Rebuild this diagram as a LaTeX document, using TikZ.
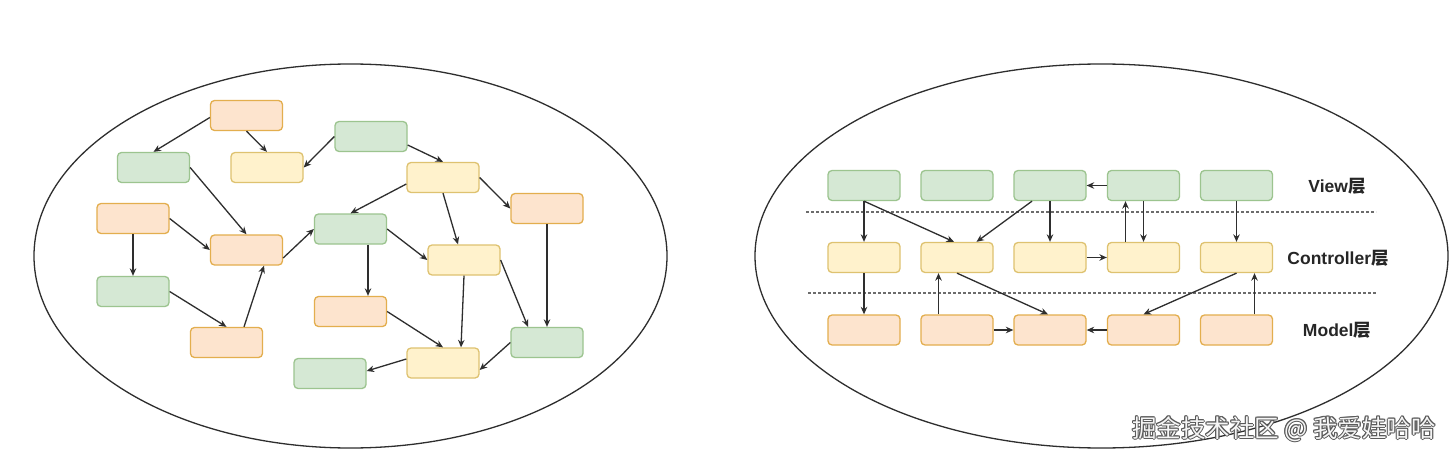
\documentclass[tikz,border=0pt]{standalone}
\usepackage{fontspec}
\setmainfont{Liberation Sans}
\newfontfamily\cjk{Noto Sans CJK SC}
\newfontfamily\cjkbold{Noto Sans CJK SC Bold}
\usetikzlibrary{arrows.meta,calc}
\definecolor{gfill}{HTML}{D5E8D4}
\definecolor{gline}{HTML}{9CC48F}
\definecolor{yfill}{HTML}{FFF2CC}
\definecolor{yline}{HTML}{DEC270}
\definecolor{ofill}{HTML}{FDE4CE}
\definecolor{oline}{HTML}{E3AE4E}
\definecolor{edge}{HTML}{2E2E2E}
\tikzset{
  box/.style={rounded corners=4pt, line width=1.3pt, minimum width=72pt, minimum height=30pt, inner sep=0pt},
  gbox/.style={box, draw=gline, fill=gfill},
  ybox/.style={box, draw=yline, fill=yfill},
  obox/.style={box, draw=oline, fill=ofill},
  conn/.style={draw=edge, line width=1.3pt, -{Stealth[length=7.5pt,width=6.5pt]}},
  oval/.style={draw=edge, line width=1.3pt},
  sep/.style={draw=gray!85!black, line width=1.7pt, dash pattern=on 3pt off 2pt},
  layer/.style={font=\fontsize{17.5pt}{20pt}\selectfont\bfseries, text=black!85, inner sep=0pt},
  wm/.style={font=\cjk\fontsize{24.5pt}{28pt}\selectfont, inner sep=0pt}
}
\begin{document}
\begin{tikzpicture}[x=1pt,y=-1pt]
\useasboundingbox (0,0) rectangle (1452,460);
\fill[white] (0,0) rectangle (1452,460);
% ellipses
\draw[oval] (350.5,256) ellipse [x radius=316.5pt, y radius=192pt];
\draw[oval] (1101.5,256) ellipse [x radius=346.5pt, y radius=192pt];
% ---------- left ----------
\node[obox] (b1) at (246.5,115.5) {};
\node[gbox] (b2) at (153.5,167.5) {};
\node[ybox] (b3) at (267,167.5) {};
\node[gbox] (b4) at (371,136.5) {};
\node[ybox] (b5) at (443,177.5) {};
\node[obox] (b6) at (133,218.5) {};
\node[obox] (b7) at (246.5,250) {};
\node[gbox] (b8) at (350.5,229) {};
\node[obox] (b9) at (547,208.5) {};
\node[ybox] (b10) at (464,260) {};
\node[gbox] (b11) at (133,291.5) {};
\node[obox] (b12) at (350.5,311.5) {};
\node[obox] (b13) at (226.5,342.5) {};
\node[gbox] (b14) at (547,342.5) {};
\node[ybox] (b15) at (443,363) {};
\node[gbox] (b16) at (330,373.5) {};
\draw[conn] ([yshift=-2pt]b1.west) -- (b2.north);
\draw[conn] (b1.south) -- (b3.north);
\draw[conn] (b4.west) -- (b3.east);
\draw[conn] ([yshift=-8.5pt]b4.east) -- (b5.north);
\draw[conn] (b2.east) -- (b7.north);
\draw[conn] (b6.east) -- (b7.west);
\draw[conn] (b6.south) -- (b11.north);
\draw[conn] (b11.east) -- (b13.north);
\draw[conn] ([xshift=17.5pt]b13.north) -- ([xshift=17.5pt]b7.south);
\draw[conn] ([yshift=-8pt]b7.east) -- (b8.west);
\draw[conn] ([yshift=-6.5pt]b5.west) -- (b8.north);
\draw[conn] (b5.south) -- ([xshift=-6pt]b10.north);
\draw[conn] (b5.east) -- (b9.west);
\draw[conn] (b8.east) -- (b10.west);
\draw[conn] ([xshift=17.5pt]b8.south) -- ([xshift=17.5pt]b12.north);
\draw[conn] (b12.east) -- (b15.north);
\draw[conn] (b10.south) -- ([xshift=18pt]b15.north);
\draw[conn] (b10.east) -- ([xshift=-19pt]b14.north);
\draw[conn] (b9.south) -- (b14.north);
\draw[conn] (b14.west) -- ([yshift=-7pt]b15.east);
\draw[conn] ([yshift=4pt]b15.west) -- ([yshift=2.5pt]b16.east);
% ---------- right ----------
\coordinate (d1a) at (806,211.7);
\coordinate (d1b) at (1376,211.7);
\coordinate (d2a) at (808,292.7);
\coordinate (d2b) at (1377,292.7);
\draw[sep] (d1a) -- (d1b);
\draw[sep] (d2a) -- (d2b);
\foreach \i/\x in {1/864,2/957,3/1050,4/1143.5,5/1236.5}{
  \node[gbox] (v\i) at (\x,185.5) {};
  \node[ybox] (c\i) at (\x,257.5) {};
  \node[obox] (m\i) at (\x,330) {};
}
\draw[conn] (v1.south) -- (c1.north);
\draw[conn] (v1.south) -- ([xshift=-3pt]c2.north);
\draw[conn] ([xshift=-18pt]v3.south) -- ([xshift=19.5pt]c2.north);
\draw[conn] (v3.south) -- (c3.north);
\draw[conn] (v4.west) -- (v3.east);
\draw[conn] ([xshift=-18pt]c4.north) -- ([xshift=-18pt]v4.south);
\draw[conn] (v4.south) -- (c4.north);
\draw[conn] (v5.south) -- (c5.north);
\draw[conn] (c3.east) -- (c4.west);
\draw[conn] (c1.south) -- (m1.north);
\draw[conn] ([xshift=-18.5pt]m2.north) -- ([xshift=-18.5pt]c2.south);
\draw[conn] (c2.south) -- ([xshift=-2pt]m3.north);
\draw[conn] (c5.south) -- (m4.north);
\draw[conn] ([xshift=18pt]m5.north) -- ([xshift=18pt]c5.south);
\draw[conn] (m2.east) -- (m3.west);
\draw[conn] (m4.west) -- (m3.east);
\node[layer] (lv) at (1337,186) {View{\cjkbold 层}};
\node[layer] (lc) at (1338,258) {Controller{\cjkbold 层}};
\node[layer] (lm) at (1337,330) {Model{\cjkbold 层}};
% watermark
\foreach \dx/\dy [count=\k] in {-0.9/0,0.9/0,0/-0.9,0/0.9,0.7/0.7,-0.7/-0.7,0.7/-0.7,-0.7/0.7}{
  \node[wm, text=gray!70!black] (wms\k) at (1284+\dx,429+\dy) {掘金技术社区 @ 我爱娃哈哈};
}
\node[wm, text=gray!8] (wmt) at (1284,429) {掘金技术社区 @ 我爱娃哈哈};
\end{tikzpicture}
\end{document}
